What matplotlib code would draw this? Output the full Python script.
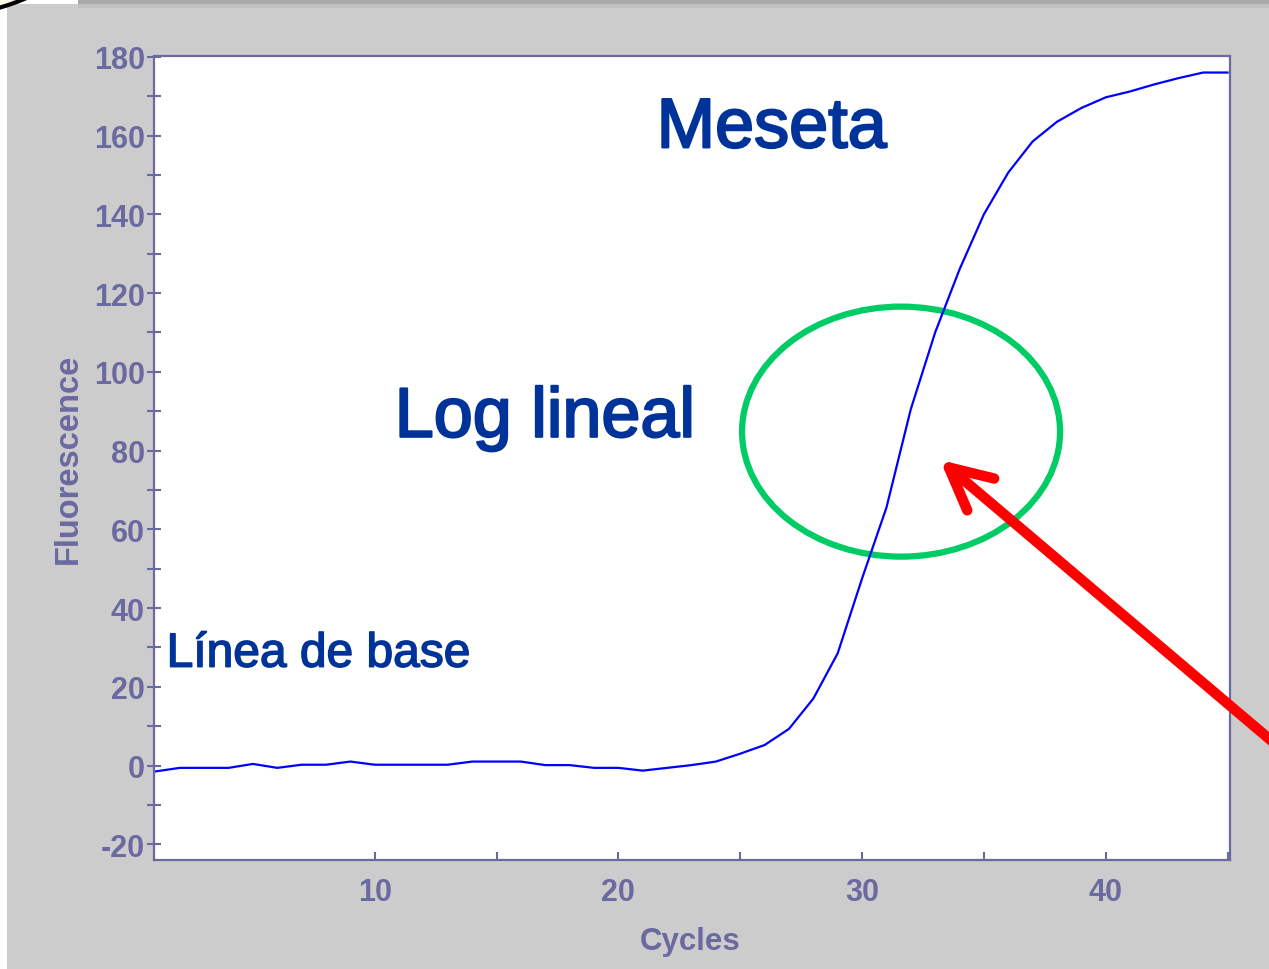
import matplotlib
matplotlib.use("Agg")
from matplotlib import pyplot as plt
from matplotlib import patheffects
from matplotlib.patches import Ellipse, Rectangle, Circle
from matplotlib.ticker import MultipleLocator, FixedLocator

plt.rcParams["axes.unicode_minus"] = False

# qPCR amplification curve, one reading per cycle
cycles = list(range(1, 46))
fluorescence = [
    -1.5, -0.6, -0.6, -0.6, 0.4, -0.6, 0.2, 0.2, 1.0, 0.2,
    0.2, 0.2, 0.2, 1.0, 1.0, 1.0, 0.1, 0.1, -0.6, -0.6,
    -1.3, -0.6, 0.1, 1.0, 3.0, 5.2, 9.3, 17.0, 28.5, 47.5,
    65.5, 90.5, 110.0, 126.0, 140.0, 150.6, 158.5, 163.5, 167.0, 169.7,
    171.2, 173.0, 174.6, 176.0, 176.0,
]

x_major = [10, 20, 30, 40]
x_minor = [15, 25, 35, 45]
y_major = list(range(-20, 181, 20))

label_meseta = "Meseta"
label_log = "Log lineal"
label_base = "Línea de base"

# annotation anchors (data coords)
ellipse_center = (31.6, 84.8)
ellipse_size = (13.05, 63.5)
arrow_tip = (33.2, 77.6)
arrow_tail = (48.0, 0.0)

AXIS_COLOR = "#6a6aa0"
TEXT_BLUE = "#003399"

W, H = 1269, 970
fig = plt.figure(figsize=(W / 100, H / 100), dpi=100, facecolor="#cccccc")

# slide-ish decorations around the screenshot
fig.patches.append(Rectangle((0, 0), 7 / W, 1, transform=fig.transFigure,
                             facecolor="white", edgecolor="none", zorder=0))
fig.patches.append(Rectangle((0, 1 - 5 / H), 80 / W, 5 / H, transform=fig.transFigure,
                             facecolor="white", edgecolor="none", zorder=0))
fig.patches.append(Rectangle((78 / W, 1 - 9 / H), 1, 9 / H, transform=fig.transFigure,
                             facecolor="#c0c0c0", edgecolor="none", zorder=0))
fig.patches.append(Rectangle((78 / W, 1 - 5 / H), 1, 5 / H, transform=fig.transFigure,
                             facecolor="#a9a9a9", edgecolor="none", zorder=0))
fig.patches.append(Circle((-60, H + 200), 217, transform=None,
                          facecolor="#fffde8", edgecolor="black", linewidth=3, zorder=1))

ax = fig.add_axes([153.5 / W, 1 - 861 / H, (1230 - 153.5) / W, (861 - 57) / H])
ax.set_facecolor("white")

ax.plot(cycles, fluorescence, color="#0000ff", linewidth=1.6)

ax.set_xlim(0.92, 45.1)
ax.set_ylim(-24, 180.2)

ax.xaxis.set_major_locator(FixedLocator(x_major))
ax.xaxis.set_minor_locator(FixedLocator(x_minor))
ax.yaxis.set_major_locator(FixedLocator(y_major))
ax.yaxis.set_minor_locator(MultipleLocator(10))

for side in ["left", "bottom", "right", "top"]:
    ax.spines[side].set_color(AXIS_COLOR)
    ax.spines[side].set_linewidth(1.6)

ax.tick_params(axis="x", which="both", direction="in", length=6, width=1.5,
               color=AXIS_COLOR, pad=12)
ax.tick_params(axis="y", which="both", direction="inout", length=9.5, width=1.5,
               color=AXIS_COLOR, pad=1.5)

for lab in ax.get_xticklabels() + ax.get_yticklabels():
    lab.set_fontfamily("Liberation Sans")
    lab.set_fontweight("bold")
    lab.set_fontsize(22)
    lab.set_color(AXIS_COLOR)

fig.text(68 / W, 1 - 459 / H, "Fluorescence", rotation=90, ha="center", va="center",
         fontfamily="Liberation Sans", fontweight="bold", fontsize=23.5, color=AXIS_COLOR)
fig.text(690 / W, 1 - 942 / H, "Cycles", ha="center", va="center",
         fontfamily="Liberation Sans", fontweight="bold", fontsize=22.5, color=AXIS_COLOR)

thick = [patheffects.withStroke(linewidth=1.6, foreground=TEXT_BLUE)]
ax.text(21.57, 157, label_meseta, fontfamily="Liberation Sans", fontsize=50.5,
        color=TEXT_BLUE, ha="left", va="baseline", path_effects=thick)
ax.text(10.82, 83.5, label_log, fontfamily="Liberation Sans", fontsize=50.5,
        color=TEXT_BLUE, ha="left", va="baseline", path_effects=thick)
ax.text(1.46, 25.1, label_base, fontfamily="Liberation Sans", fontsize=34.5,
        color=TEXT_BLUE, ha="left", va="baseline",
        path_effects=[patheffects.withStroke(linewidth=1.1, foreground=TEXT_BLUE)])

ax.add_patch(Ellipse(ellipse_center, ellipse_size[0], ellipse_size[1],
                     fill=False, edgecolor="#00cc66", linewidth=4.5))

ax.annotate("", xy=arrow_tip, xytext=arrow_tail, annotation_clip=False,
            arrowprops=dict(arrowstyle="->,head_length=3.0,head_width=1.5",
                            mutation_scale=10, color="#ff0000", linewidth=7.5,
                            capstyle="round", joinstyle="round",
                            shrinkA=0, shrinkB=0, clip_on=False))

fig.savefig("out.png", dpi=100, facecolor=fig.get_facecolor())
